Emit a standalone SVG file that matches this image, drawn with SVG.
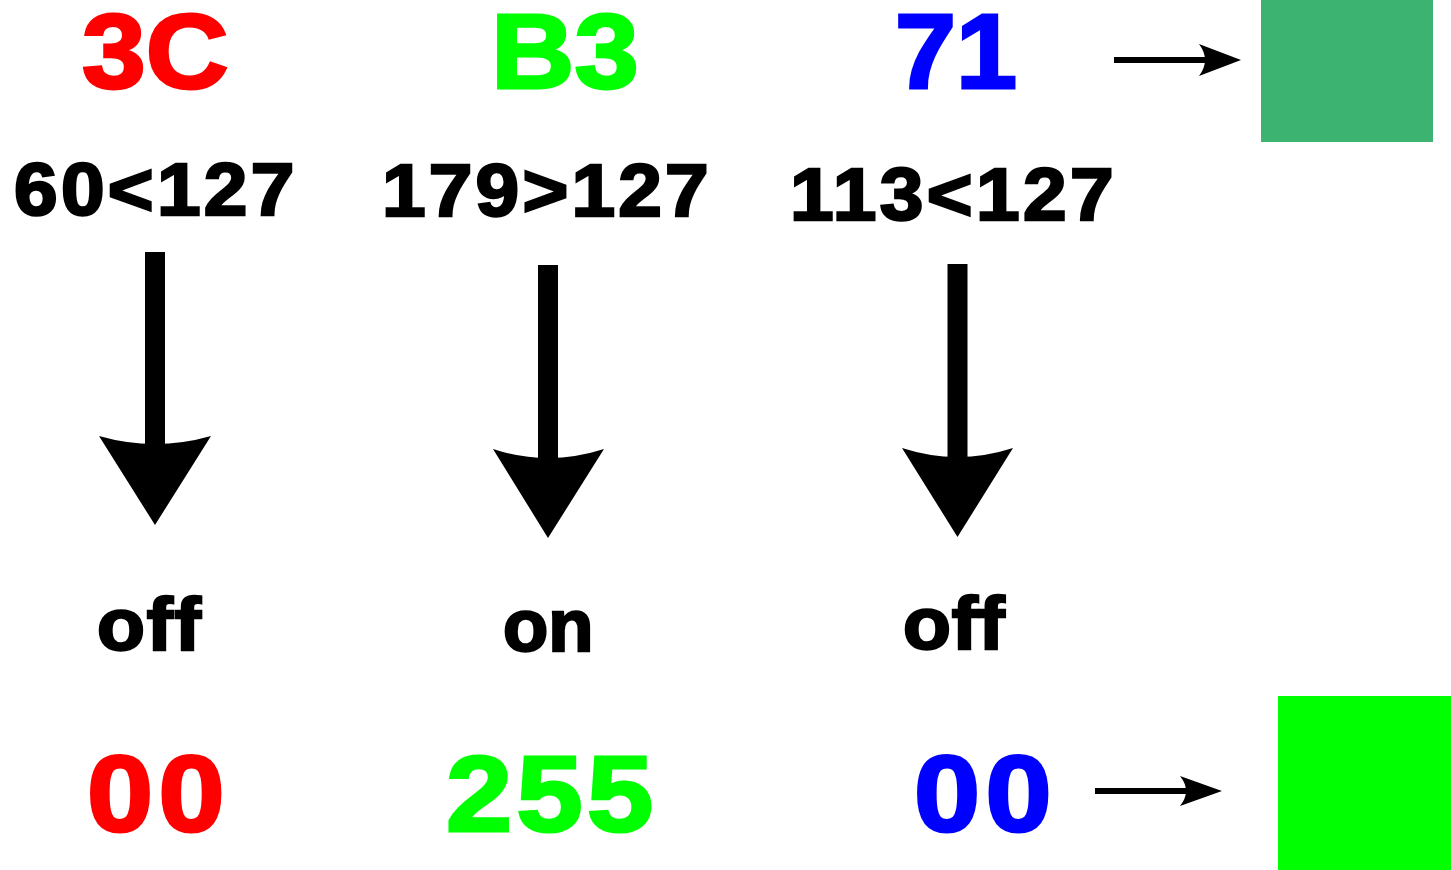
<svg xmlns="http://www.w3.org/2000/svg" width="1451" height="870" viewBox="0 0 1451 870">
<style>
  text { font-family: "Liberation Sans", Arial, sans-serif; font-weight: bold; }
  .hex { font-size: 106px; stroke-width: 3px; }
  .cmp { font-size: 74px; fill: #000; stroke: #000; stroke-width: 2.5px; }
  .st { font-size: 74px; fill: #000; stroke: #000; stroke-width: 2.5px; }
  .out { font-size: 108px; stroke-width: 3px; }
  .red { fill: #FF0000; stroke: #FF0000; }
  .grn { fill: #00FF00; stroke: #00FF00; }
  .blu { fill: #0000FF; stroke: #0000FF; }
  .shaft { fill: #000; }
  .thin { stroke: #000; stroke-width: 6; fill: none; }
  .head { fill: #000; }
</style>
<rect width="1451" height="870" fill="#FFFFFF"/>
<g id="hex-3C"><text class="hex red" transform="translate(82,88) scale(1.08,1)">3C</text></g>
<g id="hex-B3"><text class="hex grn" transform="translate(491,88) scale(1.09,1)">B3</text></g>
<g id="hex-71"><text class="hex blu" transform="translate(895,88) scale(1.035,1)">71</text></g>
<g id="swatch-in"><rect x="1261" y="0" width="172" height="142" fill="#3CB371"/></g>
<g id="cmp-r"><text class="cmp" transform="translate(14,215) scale(1.06,1)" letter-spacing="3.1">60&lt;127</text></g>
<g id="cmp-g"><text class="cmp" transform="translate(382,216) scale(1.06,1)" letter-spacing="3">179&gt;127</text></g>
<g id="cmp-b"><text class="cmp" transform="translate(790,220) scale(1.06,1)" letter-spacing="3.2">113&lt;127</text></g>
<g id="state-r"><text class="st" transform="translate(97,650) scale(1.06,1)" letter-spacing="1.7">off</text></g>
<g id="state-g"><text class="st" transform="translate(503,651)">on</text></g>
<g id="state-b"><text class="st" transform="translate(903,649) scale(1.06,1)" letter-spacing="0.7">off</text></g>
<g id="out-r"><text class="out red" transform="translate(87,831) scale(1.1,1)" letter-spacing="5">00</text></g>
<g id="out-g"><text class="out grn" transform="translate(446,831) scale(1.1,1)" letter-spacing="4">255</text></g>
<g id="out-b"><text class="out blu" transform="translate(914,831) scale(1.1,1)" letter-spacing="5">00</text></g>
<g id="swatch-out"><rect x="1278" y="696" width="173" height="174" fill="#00FF00"/></g>
<g id="connectors">
  <rect class="shaft" x="145" y="252" width="20" height="194"/>
  <path class="head" d="M99,436 Q155,452 211,436 L155,525 Z"/>
  <rect class="shaft" x="538" y="265" width="20" height="193"/>
  <path class="head" d="M493,449 Q548,467 604,449 L548,538 Z"/>
  <rect class="shaft" x="947.5" y="264" width="20" height="193"/>
  <path class="head" d="M902,448 Q957.5,466 1013,448 L957.5,537 Z"/>
  <line class="thin" x1="1114" y1="60" x2="1210" y2="60"/>
  <path class="head" d="M1241,60 L1199,44 Q1211,60 1199,76 Z"/>
  <line class="thin" x1="1095" y1="791" x2="1190" y2="791"/>
  <path class="head" d="M1222,791 L1180,776 Q1192,791 1180,806 Z"/>
</g>
</svg>
